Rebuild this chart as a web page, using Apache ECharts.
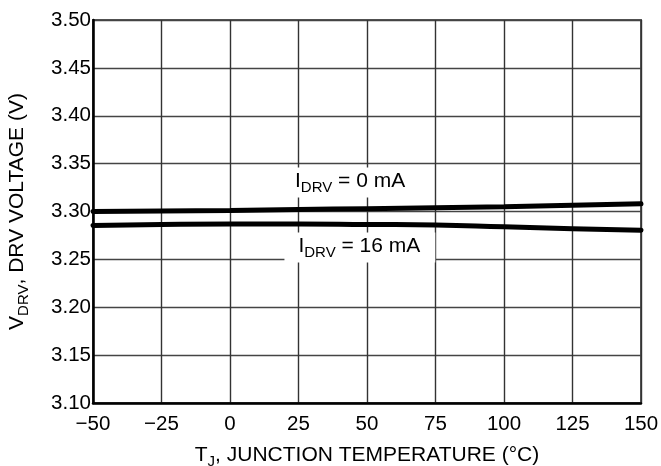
<!DOCTYPE html>
<html>
<head>
<meta charset="utf-8">
<script src="https://cdn.jsdelivr.net/npm/echarts@6/dist/echarts.min.js"></script>
<style>
html,body{margin:0;padding:0;background:#fff;}
#c{width:661px;height:466px;}
</style>
</head>
<body>
<div id="c"></div>
<script>
// Data
var temps = [-50, -25, 0, 25, 50, 75, 100, 125, 150];
var vdrv0mA = [3.300, 3.3005, 3.301, 3.302, 3.303, 3.304, 3.305, 3.3065, 3.308];
var vdrv16mA = [3.2855, 3.2865, 3.287, 3.287, 3.2865, 3.286, 3.284, 3.282, 3.2805];
var xTickLabels = {'-50':'\u221250','-25':'\u221225'};
var FONT = 'Liberation Sans, Arial, Helvetica, sans-serif';

function pairs(xs, ys){ return xs.map(function(x,i){ return [x, ys[i]]; }); }

var richStyle = {
  a: {fontSize: 21, fontFamily: FONT, color: '#000', lineHeight: 28},
  sub: {fontSize: 15, fontFamily: FONT, color: '#000', lineHeight: 15, padding: [13,0,0,0]}
};

function labelPoint(x, y, text, pad){
  return {
    coord: [x, y],
    symbol: 'rect', symbolSize: 1,
    itemStyle: {color: 'rgba(0,0,0,0)'},
    label: {
      show: true, position: 'inside', formatter: text,
      backgroundColor: '#fff', padding: pad,
      rich: richStyle
    }
  };
}

var chart = echarts.init(document.getElementById('c'), null, {renderer: 'canvas'});
chart.setOption({
  animation: false,
  backgroundColor: '#fff',
  grid: {left: 93, right: 20, top: 20, bottom: 63, outerBoundsMode: 'none', containLabel: false,
    show: true, borderColor: '#555', borderWidth: 2, backgroundColor: 'transparent'},
  xAxis: {
    type: 'value', min: -50, max: 150, interval: 25,
    name: '{a|T}{sub|J}{a|, JUNCTION TEMPERATURE (\u00b0C)}',
    nameLocation: 'middle', nameGap: 38,
    nameTextStyle: {rich: richStyle},
    axisLine: {show: true, onZero: false, lineStyle: {color: '#000', width: 2.5}},
    axisTick: {show: false},
    axisLabel: {fontSize: 20.5, fontFamily: FONT, color: '#000', margin: 11,
      formatter: function(v){ return xTickLabels[String(v)] || String(v); }},
    splitLine: {show: true, lineStyle: {color: '#333', width: 1.4}}
  },
  yAxis: {
    type: 'value', min: 3.10, max: 3.50, interval: 0.05,
    name: '{a|V}{sub|DRV}{a|, DRV VOLTAGE (V)}',
    nameLocation: 'middle', nameGap: 62, nameRotate: 90,
    nameTextStyle: {rich: richStyle},
    axisLine: {show: true, onZero: false, lineStyle: {color: '#000', width: 2.5}},
    axisTick: {show: false},
    axisLabel: {fontSize: 20.5, fontFamily: FONT, color: '#000', margin: 2,
      formatter: function(v){ return v.toFixed(2); }},
    splitLine: {show: true, lineStyle: {color: '#444', width: 1.4}}
  },
  series: [
    {
      type: 'line', name: 'IDRV = 0 mA', data: pairs(temps, vdrv0mA),
      showSymbol: false, smooth: true,
      lineStyle: {color: '#000', width: 5, cap: 'round'},
      markPoint: {data: [labelPoint(47.1, 3.3303, '{a|I}{sub|DRV}{a| = 0 mA}', [0, 28, 2, 10])]}
    },
    {
      type: 'line', name: 'IDRV = 16 mA', data: pairs(temps, vdrv16mA),
      showSymbol: false, smooth: true,
      lineStyle: {color: '#000', width: 5, cap: 'round'},
      markPoint: {data: [labelPoint(47.4, 3.2624, '{a|I}{sub|DRV}{a| = 16 mA}', [0, 15, 2, 14])]}
    }
  ]
});
</script>
</body>
</html>
